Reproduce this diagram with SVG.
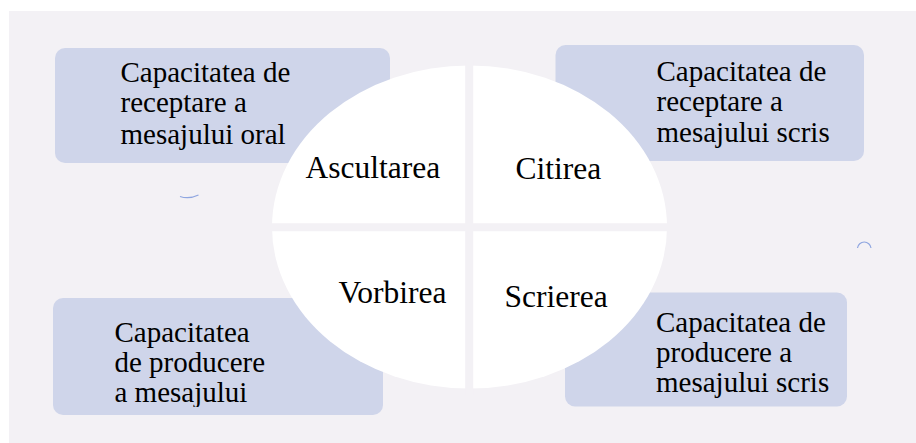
<svg xmlns="http://www.w3.org/2000/svg" width="916" height="443" viewBox="0 0 916 443">
<style>
.box{fill:#cfd5ea}
.t{font-size:29px;fill:#000}
.l{font-size:31.5px;fill:#000}
.gap{stroke:#f3f1f5;stroke-width:8;fill:none}
.mark{stroke:#8fa6e0;stroke-width:1.2;fill:none}
</style>
<defs>
<clipPath id="clipBL"><rect x="53" y="298" width="330" height="109"/></clipPath>
</defs>
<rect x="0" y="0" width="916" height="443" fill="#ffffff"/>
<rect x="9" y="11" width="907" height="432" fill="#f3f1f5"/>
<g font-family="Liberation Serif, Tinos, serif">
<g id="box-tl"><rect class="box" x="55" y="48" width="335" height="115" rx="10"/>
<text class="t" x="120.5" y="82">Capacitatea de</text>
<text class="t" x="120.5" y="112">receptare a</text>
<text class="t" x="120.5" y="144">mesajului oral</text></g>
<g id="box-tr"><rect class="box" x="555.5" y="45" width="308.5" height="116" rx="10"/>
<text class="t" x="656.5" y="81">Capacitatea de</text>
<text class="t" x="656.5" y="111">receptare a</text>
<text class="t" x="656.5" y="142">mesajului scris</text></g>
<g id="box-bl"><rect class="box" x="53" y="298" width="330" height="117" rx="10"/>
<g clip-path="url(#clipBL)">
<text class="t" x="114.5" y="342">Capacitatea</text>
<text class="t" x="114.5" y="372">de producere</text>
<text class="t" x="114.5" y="402">a mesajului</text></g></g>
<g id="box-br"><rect class="box" x="565" y="292.5" width="282" height="114" rx="10"/>
<text class="t" x="656" y="332">Capacitatea de</text>
<text class="t" x="656" y="362">producere a</text>
<text class="t" x="656" y="392">mesajului scris</text></g>
<g id="circle"><ellipse cx="469.5" cy="227" rx="197.5" ry="161.5" fill="#ffffff"/></g>
<g id="connectors">
<line class="gap" x1="469.2" y1="60" x2="469.2" y2="395"/>
<line class="gap" x1="265" y1="227.2" x2="675" y2="227.2"/>
</g>
<g id="labels">
<text class="l" x="305.5" y="178">Ascultarea</text>
<text class="l" x="515.5" y="179">Citirea</text>
<text class="l" x="338.5" y="303">Vorbirea</text>
<text class="l" x="504.5" y="306.5">Scrierea</text>
</g>
</g>
<path class="mark" d="M180,196.5 Q189,199.5 198.5,195"/>
<path class="mark" d="M857.5,248 A6.8,6.8 0 0 1 871,248"/>
</svg>
